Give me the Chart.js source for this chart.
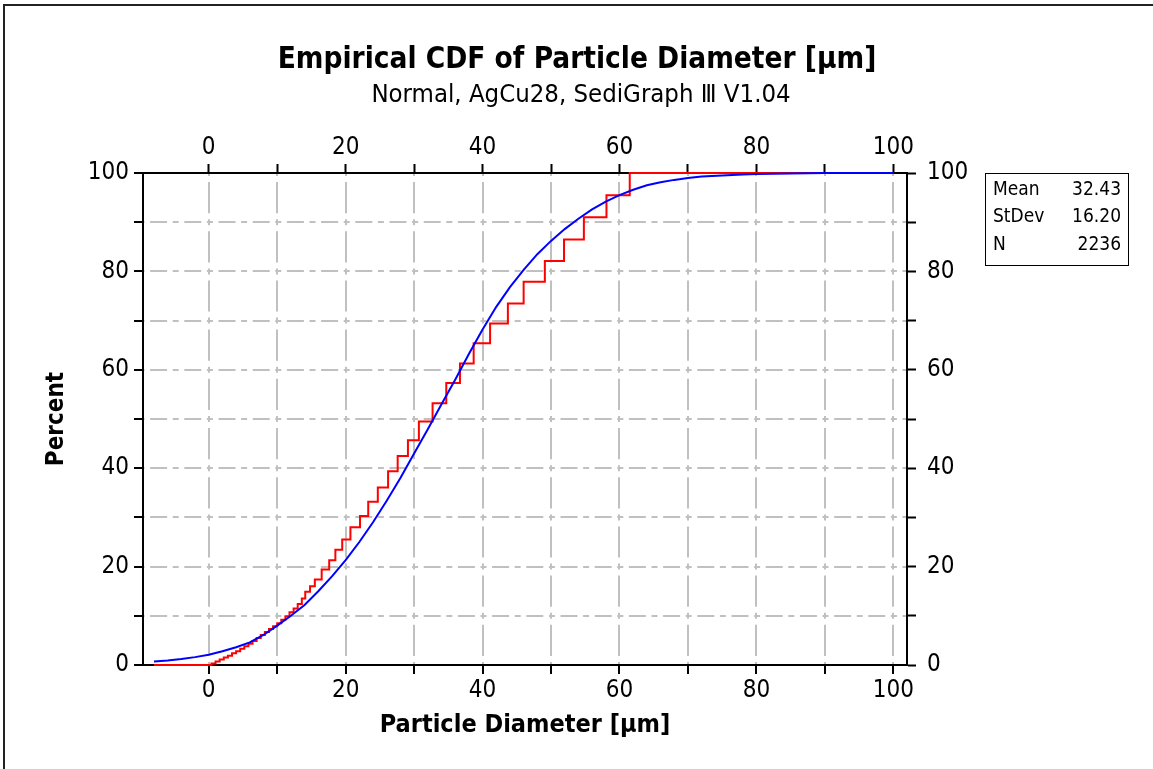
<!DOCTYPE html>
<html>
<head>
<meta charset="utf-8">
<script src="https://cdn.jsdelivr.net/npm/chart.js@4.4.1/dist/chart.umd.min.js"></script>
<style>
   html, body { margin: 0; padding: 0; background: #fff; }
   #wrap { width: 1153px; height: 769px; }
</style>
</head>
<body>
<div id="wrap"><canvas id="chartCdf" width="1153" height="769"></canvas></div>
<script>
// datos
const ecdfX = [-8, 0.4, 1.0, 1.6, 2.2, 2.8, 3.4, 4.0, 4.6, 5.2, 5.8, 6.4, 7.0, 7.6, 8.2, 8.8, 9.4, 10.0, 10.6, 11.2, 11.8, 12.4, 13.0, 13.6, 14.1, 14.8, 15.5, 16.5, 17.6, 18.5, 19.5, 20.7, 22.1, 23.3, 24.7, 26.2, 27.6, 29.1, 30.7, 32.7, 34.7, 36.7, 38.7, 41.1, 43.7, 46.0, 49.1, 51.9, 54.8, 58.1, 61.5, 100];
const ecdfY = [0, 0.3, 0.7, 1.1, 1.5, 1.9, 2.4, 2.8, 3.3, 3.8, 4.3, 4.9, 5.5, 6.1, 6.7, 7.3, 7.9, 8.5, 9.2, 9.9, 10.7, 11.5, 12.4, 13.5, 14.9, 16.0, 17.4, 19.4, 21.3, 23.4, 25.5, 28.0, 30.3, 33.2, 36.1, 39.4, 42.5, 45.7, 49.5, 53.2, 57.3, 61.3, 65.4, 69.4, 73.5, 77.9, 82.1, 86.5, 91.0, 95.5, 100, 100];

const fitX = [-8, -6, -4, -2, 0, 2, 4, 6, 8, 10, 12, 14, 16, 18, 20, 22, 24, 26, 28, 30, 32, 34, 36, 38, 40, 42, 44, 46, 48, 50, 52, 54, 56, 58, 60, 62, 64, 66, 68, 70, 72, 75, 78, 80, 85, 90, 100];
const fitY = [0.7, 0.9, 1.2, 1.6, 2.1, 2.8, 3.6, 4.6, 6.1, 8.0, 10.0, 12.2, 15.0, 18.0, 21.3, 25.0, 29.0, 33.4, 38.0, 43.0, 47.9, 53.0, 58.0, 63.2, 68.2, 72.8, 76.8, 80.3, 83.5, 86.2, 88.6, 90.7, 92.6, 94.2, 95.5, 96.6, 97.5, 98.1, 98.6, 99.0, 99.3, 99.5, 99.7, 99.8, 99.9, 100, 100];

const xTickValues = [0, 10, 20, 30, 40, 50, 60, 70, 80, 90, 100];
const xTickLabels = [0, 20, 40, 60, 80, 100];
const yTickValues = [0, 10, 20, 30, 40, 50, 60, 70, 80, 90, 100];
const yTickLabels = [0, 20, 40, 60, 80, 100];

const statNames = ['Mean', 'StDev', 'N'];
const statValues = ['32.43', '16.20', '2236'];

const titleText = 'Empirical CDF of Particle Diameter [μm]';
const subtitleText = 'Normal, AgCu28, SediGraph Ⅲ V1.04';

const FONT = "'DejaVu Sans Condensed', 'DejaVu Sans', sans-serif";
const GRID = '#c0c0c0';

const ticksX = (scale) => { scale.ticks = xTickValues.map(v => ({ value: v })); };
const ticksY = (scale) => { scale.ticks = yTickValues.map(v => ({ value: v })); };
const labelX = (v) => xTickLabels.includes(v) ? String(v) : '';
const labelY = (v) => yTickLabels.includes(v) ? String(v) : '';

const decoracion = {
   id: 'decoracion',
   afterDraw(chart) {
      const ctx = chart.ctx;
      ctx.save();
      // marco exterior
      ctx.strokeStyle = '#222';
      ctx.lineWidth = 2;
      ctx.beginPath();
      ctx.moveTo(4, 769);
      ctx.lineTo(4, 5);
      ctx.lineTo(1153, 5);
      ctx.stroke();

      // titulos
      ctx.fillStyle = '#000';
      ctx.textAlign = 'center';
      ctx.textBaseline = 'middle';
      ctx.font = 'bold 29.5px ' + FONT;
      ctx.fillText(titleText, 577, 60);
      ctx.font = '25.5px ' + FONT;
      ctx.fillText(subtitleText, 581, 95);

      // cuadro de estadisticas
      ctx.lineWidth = 1;
      ctx.strokeStyle = '#000';
      ctx.strokeRect(985.5, 173.5, 143, 92);
      ctx.font = '19px ' + FONT;
      statNames.forEach((n, i) => {
         const y = 190 + i * 27.5;
         ctx.textAlign = 'left';
         ctx.fillText(n, 993, y);
         ctx.textAlign = 'right';
         ctx.fillText(statValues[i], 1121, y);
      });
      ctx.restore();
   }
};

const ctx = document.getElementById('chartCdf').getContext('2d');
Chart.defaults.font.family = FONT;
Chart.defaults.color = '#000';

const chartCdf = new Chart(ctx, {
   type: 'scatter',
   data: {
      datasets: [{
         label: 'Normal',
         data: fitX.map((x, i) => ({ x: x, y: fitY[i] })),
         showLine: true,
         borderColor: '#0000ff',
         borderWidth: 2,
         pointRadius: 0,
         tension: 0,
         clip: 3,
      }, {
         label: 'Empirical',
         data: ecdfX.map((x, i) => ({ x: x, y: ecdfY[i] })),
         showLine: true,
         stepped: 'before',
         borderColor: '#ff0000',
         borderWidth: 2,
         pointRadius: 0,
         clip: 3,
      }]
   },
   options: {
      responsive: false,
      animation: false,
      layout: { padding: 0 },
      scales: {
         x: {
            type: 'linear',
            position: 'bottom',
            min: -9.6,
            max: 102,
            afterBuildTicks: ticksX,
            afterFit: (s) => { s.height = 104; },
            ticks: { callback: labelX, font: { size: 24 }, padding: 2, maxRotation: 0, autoSkip: false },
            grid: { color: GRID, lineWidth: 2, tickColor: '#000', tickWidth: 2, tickLength: 9 },
            border: { color: '#000', width: 2, dash: [6, 6, 31.2, 6], dashOffset: 3 },
            title: { display: true, text: 'Particle Diameter [μm]', font: { size: 25, weight: 'bold' }, padding: { bottom: 29 } }
         },
         x2: {
            type: 'linear',
            position: 'top',
            min: -9.6,
            max: 102,
            afterBuildTicks: ticksX,
            afterFit: (s) => { s.height = 173; },
            ticks: { callback: labelX, font: { size: 24 }, padding: 2, maxRotation: 0, autoSkip: false },
            grid: { drawOnChartArea: false, tickColor: '#000', tickWidth: 2, tickLength: 9 },
            border: { color: '#000', width: 2 }
         },
         y: {
            type: 'linear',
            position: 'left',
            min: 0,
            max: 100,
            afterBuildTicks: ticksY,
            afterFit: (s) => { s.width = 143; },
            ticks: { callback: labelY, font: { size: 24 }, padding: 5, autoSkip: false },
            grid: { color: GRID, lineWidth: 2, tickColor: '#000', tickWidth: 2, tickLength: 9 },
            border: { color: '#000', width: 2, dash: [6, 5.6, 17, 5.6], dashOffset: 5.5 },
            title: { display: true, text: 'Percent', font: { size: 24, weight: 'bold' }, padding: { top: 42 } }
         },
         y2: {
            type: 'linear',
            position: 'right',
            min: 0,
            max: 100,
            afterBuildTicks: ticksY,
            afterFit: (s) => { s.width = 246; },
            ticks: { callback: labelY, font: { size: 24 }, padding: 11, autoSkip: false },
            grid: { drawOnChartArea: false, tickColor: '#000', tickWidth: 2, tickLength: 9 },
            border: { color: '#000', width: 2 }
         }
      },
      plugins: {
         legend: { display: false },
         tooltip: { enabled: false },
         title: { display: false }
      }
   },
   plugins: [decoracion]
});
</script>
</body>
</html>
